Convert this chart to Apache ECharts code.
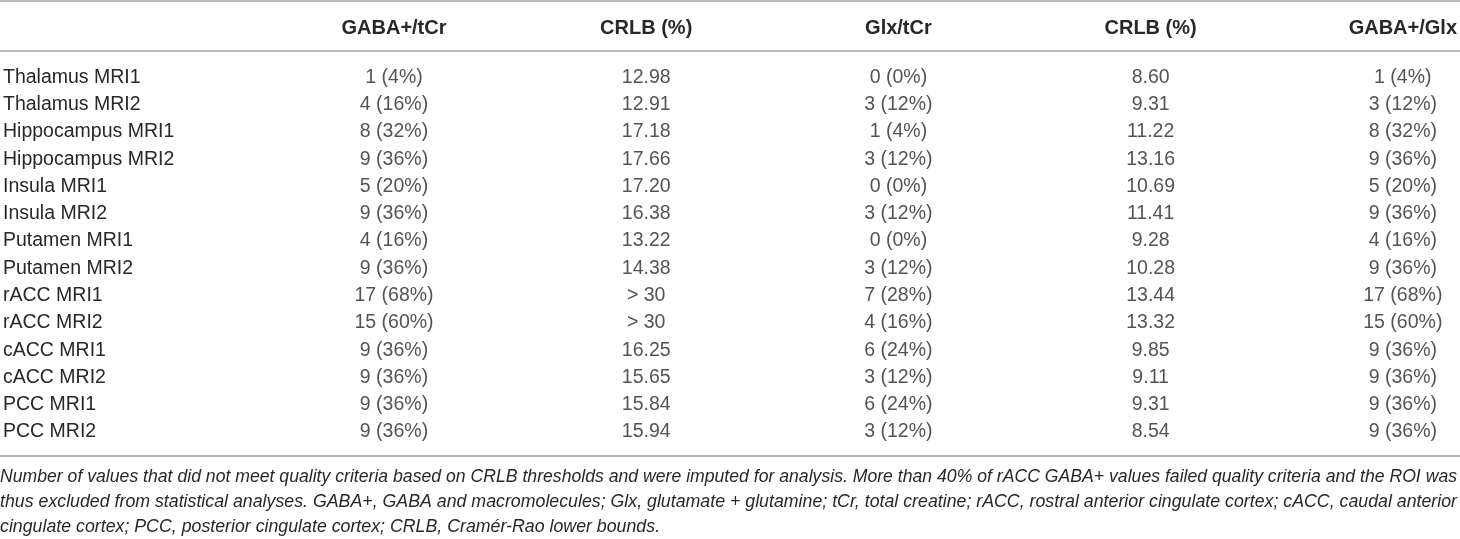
<!DOCTYPE html>
<html>
<head>
<meta charset="utf-8">
<title>CRLB table</title>
<script src="https://cdn.jsdelivr.net/npm/echarts@6.0.0/dist/echarts.min.js"></script>
<style>
  html, body { margin: 0; padding: 0; background: #fff; }
  #table-chart { width: 1460px; height: 539px; }
</style>
</head>
<body>
<div id="table-chart"></div>
<script>
// 表格数据
var headers = ['GABA+/tCr', 'CRLB (%)', 'Glx/tCr', 'CRLB (%)', 'GABA+/Glx'];
var regions = ['Thalamus MRI1', 'Thalamus MRI2', 'Hippocampus MRI1', 'Hippocampus MRI2',
    'Insula MRI1', 'Insula MRI2', 'Putamen MRI1', 'Putamen MRI2', 'rACC MRI1', 'rACC MRI2',
    'cACC MRI1', 'cACC MRI2', 'PCC MRI1', 'PCC MRI2'];
var gabaTcr = ['1 (4%)', '4 (16%)', '8 (32%)', '9 (36%)', '5 (20%)', '9 (36%)', '4 (16%)',
    '9 (36%)', '17 (68%)', '15 (60%)', '9 (36%)', '9 (36%)', '9 (36%)', '9 (36%)'];
var crlbGaba = ['12.98', '12.91', '17.18', '17.66', '17.20', '16.38', '13.22',
    '14.38', '> 30', '> 30', '16.25', '15.65', '15.84', '15.94'];
var glxTcr = ['0 (0%)', '3 (12%)', '1 (4%)', '3 (12%)', '0 (0%)', '3 (12%)', '0 (0%)',
    '3 (12%)', '7 (28%)', '4 (16%)', '6 (24%)', '3 (12%)', '6 (24%)', '3 (12%)'];
var crlbGlx = ['8.60', '9.31', '11.22', '13.16', '10.69', '11.41', '9.28',
    '10.28', '13.44', '13.32', '9.85', '9.11', '9.31', '8.54'];
var gabaGlx = ['1 (4%)', '3 (12%)', '8 (32%)', '9 (36%)', '5 (20%)', '9 (36%)', '4 (16%)',
    '9 (36%)', '17 (68%)', '15 (60%)', '9 (36%)', '9 (36%)', '9 (36%)', '9 (36%)'];
var notes = [
    'Number of values that did not meet quality criteria based on CRLB thresholds and were imputed for analysis. More than 40% of rACC GABA+ values failed quality criteria and the ROI was',
    'thus excluded from statistical analyses. GABA+, GABA and macromolecules; Glx, glutamate + glutamine; tCr, total creatine; rACC, rostral anterior cingulate cortex; cACC, caudal anterior',
    'cingulate cortex; PCC, posterior cingulate cortex; CRLB, Cram\u00e9r-Rao lower bounds.'
];

var FONT = '"Liberation Sans", Arial, sans-serif';
var TEXT_COLOR = '#282828';
var RULE_COLOR = '#a3a3a3';

var tableChart = echarts.init(document.getElementById('table-chart'));

// 每个单元格: [列, 行, 文本]
var columns = [gabaTcr, crlbGaba, glxTcr, crlbGlx, gabaGlx];
var cells = [];
for (var c = 0; c < columns.length; c++) {
    for (var r = 0; r < regions.length; r++) {
        cells.push([c, r, columns[c][r]]);
    }
}

// 脚注两端对齐: 用canvas量一下宽度再横向缩放
var ctx = document.createElement('canvas').getContext('2d');
ctx.font = 'italic 18px ' + FONT;
var noteWidth = 1457;
var noteGraphics = [];
var lastScale = 1;
for (var i = 0; i < notes.length; i++) {
    var w = ctx.measureText(notes[i]).width;
    var sx = (i < notes.length - 1) ? noteWidth / w : Math.min(lastScale, 1);
    lastScale = sx;
    noteGraphics.push({
        type: 'text',
        x: 0,
        y: 477 + i * 25,
        scaleX: sx,
        silent: true,
        style: {
            text: notes[i],
            font: 'italic 18px ' + FONT,
            fill: TEXT_COLOR,
            verticalAlign: 'middle'
        }
    });
}

function rule(y) {
    return {
        type: 'line',
        silent: true,
        shape: { x1: 0, y1: y, x2: 1460, y2: y },
        style: { stroke: RULE_COLOR, lineWidth: 1.5 }
    };
}

var option = {
    animation: false,
    grid: { left: 389, right: 55, top: 77.5, bottom: 107 },
    xAxis: {
        type: 'category',
        position: 'top',
        data: headers,
        boundaryGap: false,
        axisLine: { show: false },
        axisTick: { show: false },
        splitLine: { show: false },
        axisLabel: {
            interval: 0,
            margin: 49.5,
            verticalAlign: 'middle',
            fontFamily: FONT,
            fontWeight: 'bold',
            fontSize: 20,
            color: TEXT_COLOR
        }
    },
    yAxis: {
        type: 'category',
        inverse: true,
        data: regions,
        boundaryGap: false,
        axisLine: { show: false },
        axisTick: { show: false },
        splitLine: { show: false },
        axisLabel: {
            interval: 0,
            align: 'left',
            margin: 391,
            fontFamily: FONT,
            fontSize: 19.5,
            color: TEXT_COLOR
        }
    },
    series: [{
        type: 'scatter',
        silent: true,
        symbolSize: 0,
        data: cells,
        label: {
            show: true,
            position: 'inside',
            formatter: function (p) { return p.value[2]; },
            fontFamily: FONT,
            fontSize: 19.5,
            color: TEXT_COLOR
        }
    }],
    graphic: [rule(1), rule(51), rule(456)].concat(noteGraphics)
};
tableChart.setOption(option);
</script>
</body>
</html>
